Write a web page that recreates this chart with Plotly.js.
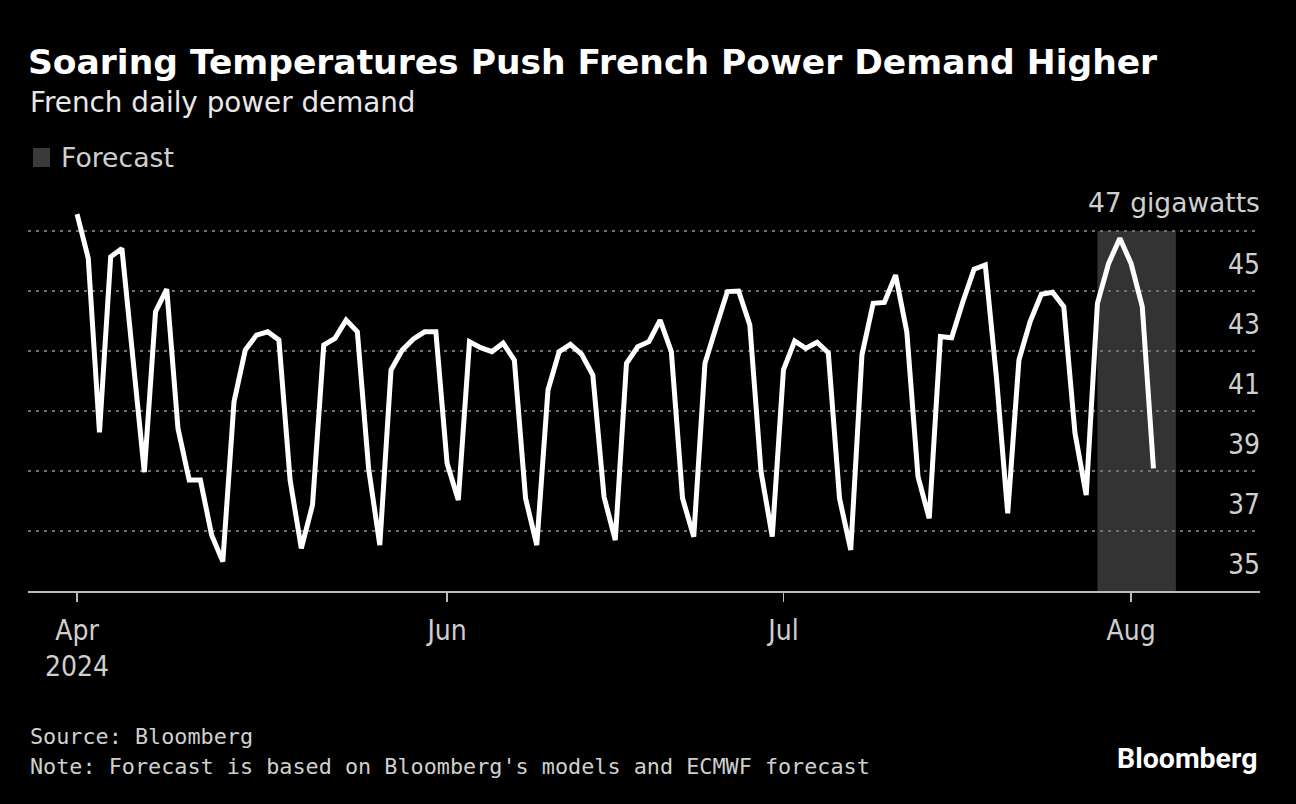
<!DOCTYPE html>
<html>
<head>
<meta charset="utf-8">
<script src="https://cdn.plot.ly/plotly-3.0.1.min.js"></script>
<style>
  html, body { margin: 0; padding: 0; background: #000; }
  #chart { width: 1296px; height: 804px; }
</style>
</head>
<body>
<div id="chart"></div>
<script>
// ---- Data ----
const firstDay = '2024-04-29';
const demandGW = [
  47.56, 46.09, 40.29, 46.14, 46.42, 42.60, 38.96,
  44.31, 45.06, 40.42, 38.70, 38.70, 36.87, 35.98,
  41.31, 43.03, 43.53, 43.64, 43.37, 38.70, 36.42,
  37.87, 43.20, 43.42, 44.03, 43.64, 39.09, 36.53,
  42.37, 43.03, 43.40, 43.64, 43.64, 39.26, 38.03,
  43.31, 43.11, 42.98, 43.26, 42.70, 38.09, 36.53,
  41.70, 42.98, 43.22, 42.89, 42.20, 38.14, 36.70,
  42.59, 43.14, 43.31, 44.03, 42.98, 38.09, 36.81,
  42.59, 43.81, 44.98, 45.00, 43.87, 38.98, 36.81,
  42.37, 43.33, 43.09, 43.29, 42.94, 38.09, 36.37,
  42.87, 44.59, 44.62, 45.53, 43.64, 38.81, 37.42,
  43.48, 43.44, 44.64, 45.73, 45.87, 42.10, 37.59,
  42.70, 43.98, 44.89, 44.96, 44.48, 40.26, 38.20,
  44.59, 45.92, 46.76, 45.92, 44.48, 39.09
];
const forecastStart = '2024-07-29';
const forecastEnd = '2024-08-05';
const xTickDates = ['2024-04-29', '2024-06-01', '2024-07-01', '2024-08-01'];
const xTickText = ['Apr<br>2024', 'Jun', 'Jul', 'Aug'];
const yGridValues = [37, 39, 41, 43, 45, 47];
const yLabelValues = [35, 37, 39, 41, 43, 45, 47];
const yLabelText = ['35', '37', '39', '41', '43', '45', '47 gigawatts'];

// daily calendar for the series
function dailyDates(start, n) {
  const out = [];
  const d0 = new Date(start + 'T00:00:00Z');
  for (let i = 0; i < n; i++) {
    const d = new Date(d0.getTime() + i * 86400000);
    out.push(d.toISOString().slice(0, 10));
  }
  return out;
}
const days = dailyDates(firstDay, demandGW.length);

// ---- Layout helpers ----
const W = 1296, H = 804;
const M = { l: 28, r: 36, t: 201, b: 213 };
const plotW = W - M.l - M.r, plotH = H - M.t - M.b;
const px = x => (x - M.l) / plotW;
const py = y => (H - M.b - y) / plotH;

const COND = 'DejaVu Sans Condensed, DejaVu Sans, sans-serif';
const SANS = 'DejaVu Sans, sans-serif';
const MONO = 'DejaVu Sans Mono, monospace';
const LABEL = '#cfcfcf';

const annotations = [];
function note(text, x, y, family, size, color, anchor) {
  annotations.push({
    text: text, xref: 'paper', yref: 'paper', x: px(x), y: py(y),
    xanchor: anchor || 'left', yanchor: 'middle', showarrow: false,
    font: { family: family, size: size, color: color }, align: 'left'
  });
}
note('French daily power demand', 28, 102, SANS, 27.8, '#e8e8e8');
note('Forecast', 59, 158, SANS, 26.7, LABEL);
note('Source: Bloomberg', 28, 736, MONO, 21.8, LABEL);
note("Note: Forecast is based on Bloomberg's models and ECMWF forecast", 28, 766, MONO, 21.8, LABEL);
note('<b>Bloomberg</b>', 1259, 758, 'Roboto, Inter, sans-serif', 28.5, '#ffffff', 'right');

yLabelValues.forEach((v, i) => {
  const isUnit = i === yLabelValues.length - 1;
  annotations.push({
    text: yLabelText[i], xref: 'paper', yref: 'y', x: 1, y: v,
    xanchor: 'right', yanchor: 'middle', yshift: isUnit ? 29 : 27, xshift: 2, showarrow: false,
    font: { family: isUnit ? SANS : COND, size: isUnit ? 26.5 : 28, color: LABEL }
  });
});

const shapes = [
  { type: 'rect', xref: 'x', yref: 'y', x0: forecastStart, x1: forecastEnd, y0: 35, y1: 47,
    fillcolor: '#333333', line: { width: 0 }, layer: 'below' },
  { type: 'rect', xref: 'paper', yref: 'paper', x0: px(33), x1: px(50), y0: py(167), y1: py(148),
    fillcolor: '#3a3a3a', line: { width: 0 }, layer: 'above' }
];

const trace = {
  type: 'scatter', mode: 'lines', x: days, y: demandGW,
  line: { color: '#ffffff', width: 5 }, hoverinfo: 'skip', cliponaxis: false
};

const layout = {
  width: W, height: H,
  paper_bgcolor: '#000000', plot_bgcolor: '#000000',
  margin: { l: M.l, r: M.r, t: M.t, b: M.b, pad: 0 },
  showlegend: false,
  title: {
    text: '<b>Soaring Temperatures Push French Power Demand Higher</b>',
    font: { family: SANS, size: 34.5, color: '#ffffff' },
    xref: 'container', yref: 'container', x: 28 / W, xanchor: 'left',
    y: 1 - 62 / H, yanchor: 'middle'
  },
  xaxis: {
    type: 'date', range: ['2024-04-24 15:00', '2024-08-12 12:00'],
    tickmode: 'array', tickvals: xTickDates, ticktext: xTickText,
    ticks: 'outside', ticklen: 9, tickwidth: 1.5, tickcolor: '#bbbbbb',
    ticklabelstandoff: 4,
    showline: true, linecolor: '#bbbbbb', linewidth: 2,
    showgrid: false, zeroline: false,
    tickfont: { family: COND, size: 28, color: LABEL },
    fixedrange: true
  },
  yaxis: {
    range: [35, 48], tickmode: 'array', tickvals: yGridValues,
    showticklabels: false, ticks: '',
    showgrid: true, gridcolor: '#707070', gridwidth: 1.5, griddash: '3px,5px',
    zeroline: false, showline: false, fixedrange: true
  },
  shapes: shapes,
  annotations: annotations
};

Plotly.newPlot('chart', [trace], layout, { displayModeBar: false, staticPlot: true });
</script>
</body>
</html>
